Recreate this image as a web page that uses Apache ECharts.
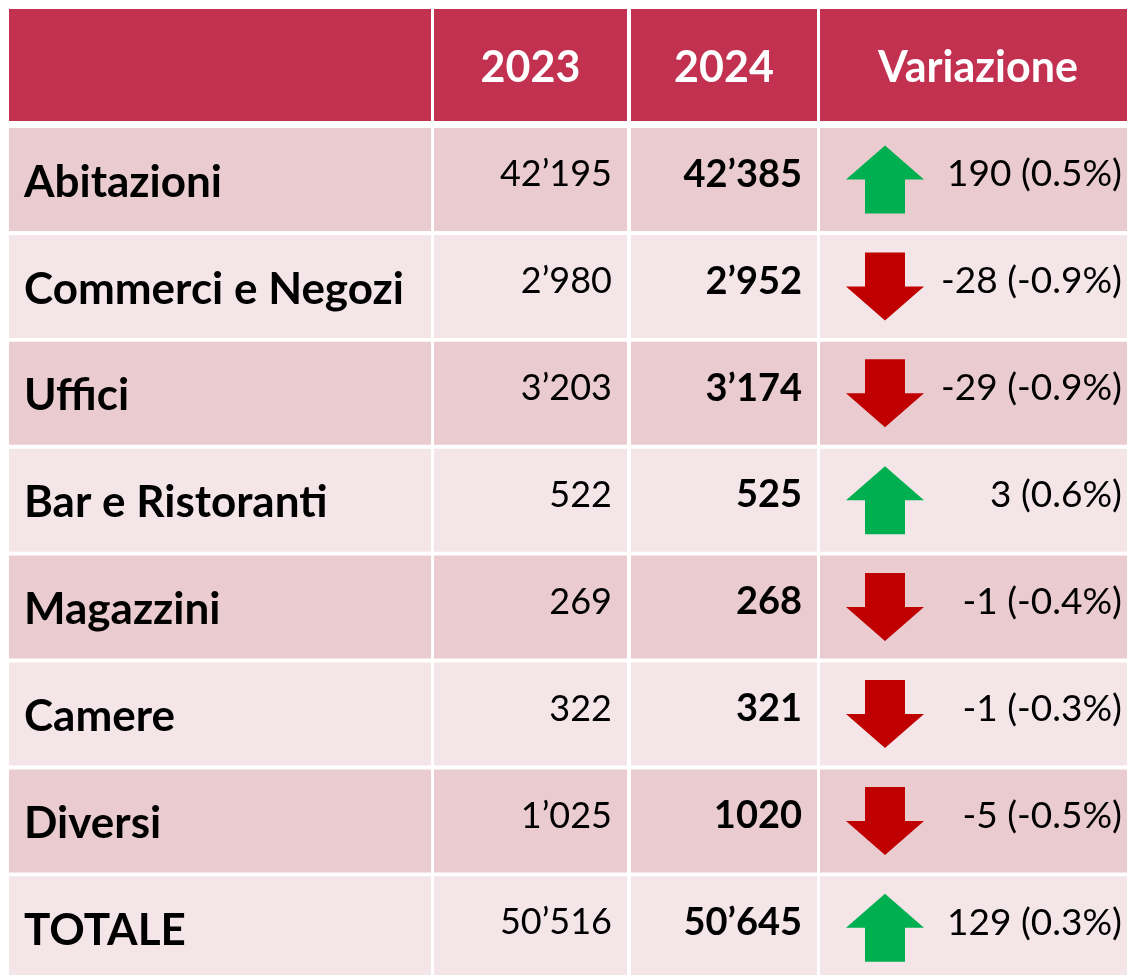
<!DOCTYPE html>
<html>
<head>
<meta charset="utf-8">
<script src="https://cdn.jsdelivr.net/npm/echarts@6/dist/echarts.min.js"></script>
<style>
  html, body { margin: 0; padding: 0; background: #fff; }
  #chart { width: 1127px; height: 975px; }
</style>
</head>
<body>
<div id="chart"></div>
<script>
// table content
const headers = ['', '2023', '2024', 'Variazione'];
const categories = ['Abitazioni', 'Commerci e Negozi', 'Uffici', 'Bar e Ristoranti', 'Magazzini', 'Camere', 'Diversi', 'TOTALE'];
const values2023 = ['42’195', '2’980', '3’203', '522', '269', '322', '1’025', '50’516'];
const values2024 = ['42’385', '2’952', '3’174', '525', '268', '321', '1020', '50’645'];
const changes = [190, -28, -29, 3, -1, -1, -5, 129];
const changePct = ['0.5%', '-0.9%', '-0.9%', '0.6%', '-0.4%', '-0.3%', '-0.5%', '0.3%'];

// layout (axis units = pixels)
const colEdges = [[9, 431], [434, 627], [631, 817], [820, 1136]];
const headerBand = [9, 121];
const firstRowTop = 128;
const rowPitch = 106.9;
const rowHeight = 103;

const HEADER_BG = '#c23150';
const ROW_BG = ['#e9cbd0', '#f4e6e8'];
const UP = '#00b050';
const DOWN = '#c00000';
const FONT = 'Lato, "Noto Sans", sans-serif';

const chart = echarts.init(document.getElementById('chart'));

function rect(api, x0, y0, x1, y1, fill) {
  const a = api.coord([x0, y0]);
  const b = api.coord([x1, y1]);
  return {
    type: 'rect',
    shape: { x: a[0], y: a[1], width: b[0] - a[0], height: b[1] - a[1] },
    style: { fill: fill }
  };
}

function text(api, x, y, str, opts) {
  const p = api.coord([x, y]);
  return {
    type: 'text',
    style: {
      x: p[0], y: p[1], text: str,
      fill: opts.color || '#000',
      font: opts.font,
      align: opts.align || 'left',
      verticalAlign: 'middle'
    }
  };
}

function arrow(api, cx, cy, up) {
  const c = api.coord([cx, cy]);
  const hw = 39, sw = 20, h = 34;
  const x = c[0], y = c[1] - h;
  const pts = up
    ? [[x - hw, y + h], [x, y], [x + hw, y + h], [x + sw, y + h], [x + sw, y + 2 * h], [x - sw, y + 2 * h], [x - sw, y + h]]
    : [[x - sw, y], [x + sw, y], [x + sw, y + h], [x + hw, y + h], [x, y + 2 * h], [x - hw, y + h], [x - sw, y + h]];
  return { type: 'polygon', shape: { points: pts }, style: { fill: up ? UP : DOWN } };
}

function renderRow(params, api) {
  const idx = api.value(0);
  const children = [];
  if (idx < 0) {
    colEdges.forEach((c, i) => {
      children.push(rect(api, c[0], headerBand[0], c[1], headerBand[1], HEADER_BG));
      if (headers[i]) {
        children.push(text(api, (c[0] + c[1]) / 2, (headerBand[0] + headerBand[1]) / 2 + 3, headers[i],
          { font: 'bold 43px ' + FONT, color: '#fff', align: 'center' }));
      }
    });
    return { type: 'group', children: children };
  }
  const top = firstRowTop + idx * rowPitch;
  const bottom = top + rowHeight;
  const mid = (top + bottom) / 2;
  colEdges.forEach(c => children.push(rect(api, c[0], top, c[1], bottom, ROW_BG[idx % 2])));
  children.push(text(api, 24, mid + 3, categories[idx], { font: 'bold 44px ' + FONT }));
  children.push(text(api, 612, mid - 5, values2023[idx], { font: '36px ' + FONT, align: 'right' }));
  children.push(text(api, 802, mid - 5, values2024[idx], { font: 'bold 38px ' + FONT, align: 'right' }));
  children.push(arrow(api, 885, mid, changes[idx] >= 0));
  children.push(text(api, 1122, mid - 5, changes[idx] + ' (' + changePct[idx] + ')', { font: '37px ' + FONT, align: 'right' }));
  return { type: 'group', children: children };
}

const rows = [[-1]].concat(categories.map((_, i) => [i]));

chart.setOption({
  animation: false,
  backgroundColor: '#fff',
  grid: { left: 0, right: 0, top: 0, bottom: 0 },
  xAxis: { type: 'value', min: 0, max: 1127, show: false },
  yAxis: { type: 'value', min: 0, max: 975, inverse: true, show: false },
  series: [{
    type: 'custom',
    clip: false,
    renderItem: renderRow,
    encode: { x: 0, y: 0 },
    data: rows
  }]
});
</script>
</body>
</html>
